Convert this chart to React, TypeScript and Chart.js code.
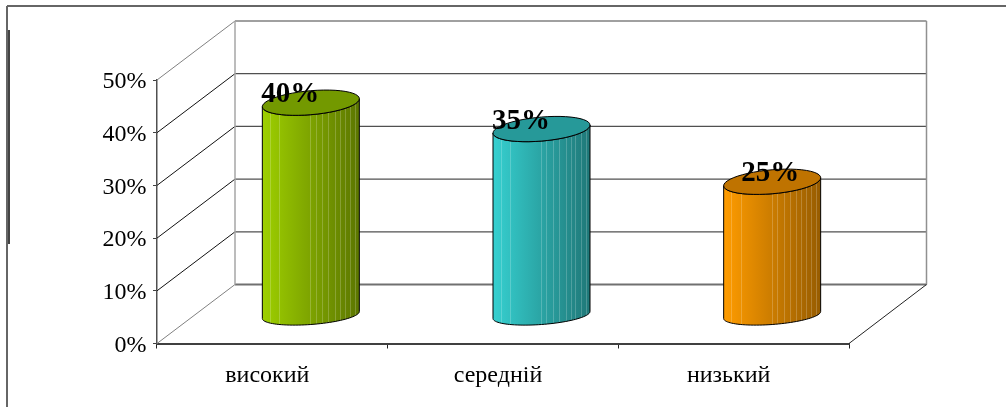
import React, { useEffect, useRef } from "react";
import { Chart, registerables } from "chart.js";

Chart.register(...registerables);

const categories = ["високий", "середній", "низький"];
const values = [40, 35, 25];
const sideColors = [
  ["#9ed000", "#5c7600"],
  ["#36d0d0", "#1f7878"],
  ["#ff9c00", "#975c00"],
];
const topColors = ["#739900", "#269999", "#bf7300"];
const stripes = [0.08, 0.175, 0.495, 0.55, 0.62, 0.68, 0.75, 0.8, 0.85, 0.905, 0.955];
const gridValues = [0, 10, 20, 30, 40, 50];
const labelShiftX = [-20.5, -20.5, -2];

const DEPTH_X = 78;
const DEPTH_Y = -59;

function ellipse(ctx: CanvasRenderingContext2D, cx: number, cy: number, a: number, b: number, k: number, from: number, to: number, move: boolean) {
  const n = 48;
  for (let i = 0; i <= n; i++) {
    const t = from + ((to - from) * i) / n;
    const x = cx + a * Math.cos(t);
    const y = cy + b * Math.sin(t) - k * Math.cos(t);
    if (i === 0 && move) ctx.moveTo(x, y);
    else ctx.lineTo(x, y);
  }
}

const wallPlugin = {
  id: "wall",
  beforeDatasetsDraw(chart: any) {
    const { ctx, scales, chartArea } = chart;
    const y = scales.y;
    const line = (x1: number, y1: number, x2: number, y2: number, color: string, w: number) => {
      ctx.strokeStyle = color;
      ctx.lineWidth = w;
      ctx.beginPath();
      ctx.moveTo(x1, y1);
      ctx.lineTo(x2, y2);
      ctx.stroke();
    };
    ctx.save();
    // page frame
    line(7, 6, 1006, 6, "#666666", 2);
    line(7, 6, 7, 407, "#666666", 2);
    line(9, 30, 9, 244, "#444444", 2);
    const L = chartArea.left;
    const R = chartArea.right;
    const backL = L + DEPTH_X;
    const backR = R + DEPTH_X - 0.5;
    for (const v of gridValues) {
      const py = y.getPixelForValue(v);
      const edge = v === 0 || v === 50;
      line(L, py, backL, py + DEPTH_Y, edge ? "#808080" : "#111111", 1);
      line(backL, py + DEPTH_Y, backR, py + DEPTH_Y, edge ? (v === 0 ? "#707070" : "#a0a0a0") : "#505050", edge ? 2 : 1.3);
    }
    const top = y.getPixelForValue(50) + DEPTH_Y;
    const bottom = y.getPixelForValue(0) + DEPTH_Y;
    line(backL, top, backL, bottom, "#a6a6a6", 1.5);
    line(backR, top, backR, bottom, "#909090", 1.5);
    line(R, y.getPixelForValue(0), backR, bottom, "#222222", 1);
    ctx.restore();
  },
  afterDatasetsDraw(chart: any) {
    const { ctx, scales } = chart;
    const meta = chart.getDatasetMeta(0);
    const a = 48.5;
    const x = scales.x;
    const y = scales.y;
    ctx.save();
    meta.data.forEach((_: any, i: number) => {
      const cx = x.getPixelForValue(i) + DEPTH_X / 2 - 0.5;
      const baseY = y.getPixelForValue(0) + DEPTH_Y / 2 + 1;
      const topY = y.getPixelForValue(values[i]) + DEPTH_Y / 2 - 0.5;
      const left = cx - a;
      const body = () => {
        ctx.beginPath();
        ellipse(ctx, cx, topY, a, 12, 4, Math.PI, 0, true);
        ellipse(ctx, cx, baseY, a, 9.5, 3.5, 0, Math.PI, false);
        ctx.closePath();
      };
      body();
      const g = ctx.createLinearGradient(left, 0, left + 2 * a, 0);
      g.addColorStop(0, sideColors[i][0]);
      g.addColorStop(1, sideColors[i][1]);
      ctx.fillStyle = g;
      ctx.fill();
      ctx.save();
      ctx.clip();
      ctx.strokeStyle = "rgba(255,255,255,0.2)";
      ctx.lineWidth = 1;
      for (const s of stripes) {
        const sx = Math.round(left + s * 2 * a) + 0.5;
        ctx.beginPath();
        ctx.moveTo(sx, topY - 20);
        ctx.lineTo(sx, baseY + 20);
        ctx.stroke();
      }
      ctx.restore();
      body();
      ctx.strokeStyle = "#000000";
      ctx.lineWidth = 1;
      ctx.stroke();
      ctx.beginPath();
      ellipse(ctx, cx, topY, a, 12, 4, 0, Math.PI * 2, true);
      ctx.closePath();
      ctx.fillStyle = topColors[i];
      ctx.fill();
      ctx.stroke();
    });
    ctx.fillStyle = "#000000";
    ctx.font = 'bold 29px "Liberation Serif"';
    ctx.textAlign = "center";
    ctx.textBaseline = "middle";
    meta.data.forEach((_: any, i: number) => {
      const cx = x.getPixelForValue(i) + DEPTH_X / 2 - 0.5;
      const topY = y.getPixelForValue(values[i]) + DEPTH_Y / 2 - 0.5;
      ctx.fillText(values[i] + "%", cx + labelShiftX[i], topY - 8);
    });
    ctx.restore();
  },
};

export default function App() {
  const ref = useRef<HTMLCanvasElement>(null);
  useEffect(() => {
    const chart = new Chart(ref.current!, {
      type: "bar",
      data: {
        labels: categories,
        datasets: [{ data: values, backgroundColor: "rgba(0,0,0,0)", borderWidth: 0 }],
      },
      options: {
        animation: false,
        responsive: false,
        layout: { padding: { left: 0, top: 80, right: 157, bottom: 0 } },
        plugins: { legend: { display: false }, tooltip: { enabled: false } },
        scales: {
          x: {
            afterFit: (s: any) => { s.height = 63.5; },
            grid: { drawOnChartArea: false, drawTicks: true, tickLength: 5, color: "#222222", offset: true },
            border: { color: "#404040", width: 2 },
            ticks: { color: "#000000", font: { family: "Liberation Serif", size: 24 }, padding: 13, maxRotation: 0, labelOffset: -5 },
          },
          y: {
            min: 0,
            max: 50,
            afterFit: (s: any) => { s.width = 157; },
            grid: { drawOnChartArea: false, drawTicks: true, tickLength: 4, color: "#404040" },
            border: { color: "#505050", width: 1.5 },
            ticks: {
              stepSize: 10,
              color: "#000000",
              font: { family: "Liberation Serif", size: 24 },
              padding: 6.5,
              labelOffset: 2,
              callback: (v: any) => v + "%",
            },
          },
        },
      },
      plugins: [wallPlugin],
    } as any);
    return () => chart.destroy();
  }, []);
  return (
    <canvas
      ref={ref}
      width={1006}
      height={407}
      style={{ position: "fixed", left: 0, top: 0, width: 1006, height: 407, background: "#ffffff" }}
    />
  );
}
